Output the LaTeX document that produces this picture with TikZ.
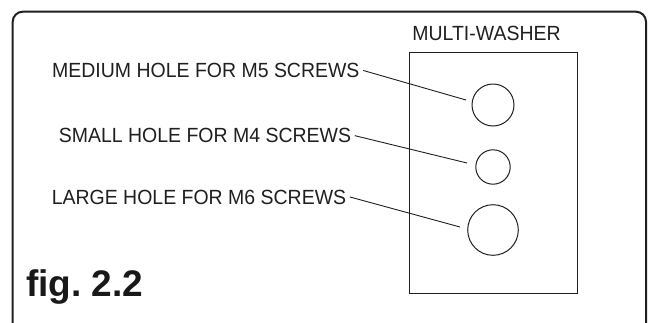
\documentclass[tikz,border=0pt]{standalone}
\usepackage{fontspec}
\setmainfont{Liberation Sans}
\newfontfamily\labfont[FakeStretch=0.95]{Liberation Sans}
\begin{document}
\begin{tikzpicture}[x=1pt,y=-1pt,
  ink/.style={draw=black!88},
  lab/.style={inner xsep=3.5pt, inner ysep=0pt, anchor=base west, text=black!88,
    font=\labfont\fontsize{20.5}{21}\selectfont},
  hole/.style={circle, ink, line width=1pt, inner sep=0pt},
  leader/.style={ink, line width=0.9pt}]
\useasboundingbox (0,0) rectangle (648,322);
\clip (0,0) rectangle (648,322);
% outer frame
\draw[ink, line width=2pt, rounded corners=10pt] (12.7,11.7) rectangle (646,336);
% washer
\node[ink, line width=1.1pt, minimum width=168pt, minimum height=240.5pt, inner sep=0pt, anchor=north west] (washer) at (409,52) {};
\node[anchor=base, inner sep=0pt, text=black!88, font=\labfont\fontsize{20.5}{21}\selectfont] (title) at (486.5,40.7) {MULTI-WASHER};
% holes
\node[hole, minimum size=42pt] (mhole) at (493,105) {};
\node[hole, minimum size=34.4pt] (shole) at (493,167) {};
\node[hole, minimum size=50.6pt] (lhole) at (493,230) {};
% leader ends
\coordinate (mend) at (466,100);
\coordinate (send) at (467,163);
\coordinate (lend) at (460,227);
% labels
\node[lab] (mlab) at (48.5,77.5) {MEDIUM HOLE FOR M5 SCREWS};
\node[lab] (slab) at (55.2,142.7) {SMALL HOLE FOR M4 SCREWS};
\node[lab] (llab) at (48.1,204) {LARGE HOLE FOR M6 SCREWS};
\draw[leader] (mlab.east) -- (mend);
\draw[leader] (slab.east) -- (send);
\draw[leader] (llab.east) -- (lend);
% figure label
\node[anchor=base west, inner sep=0pt, text=black!90, font=\bfseries\fontsize{37}{39}\selectfont] (fig) at (26,296.7) {fig.\ 2.2};
\end{tikzpicture}
\end{document}
